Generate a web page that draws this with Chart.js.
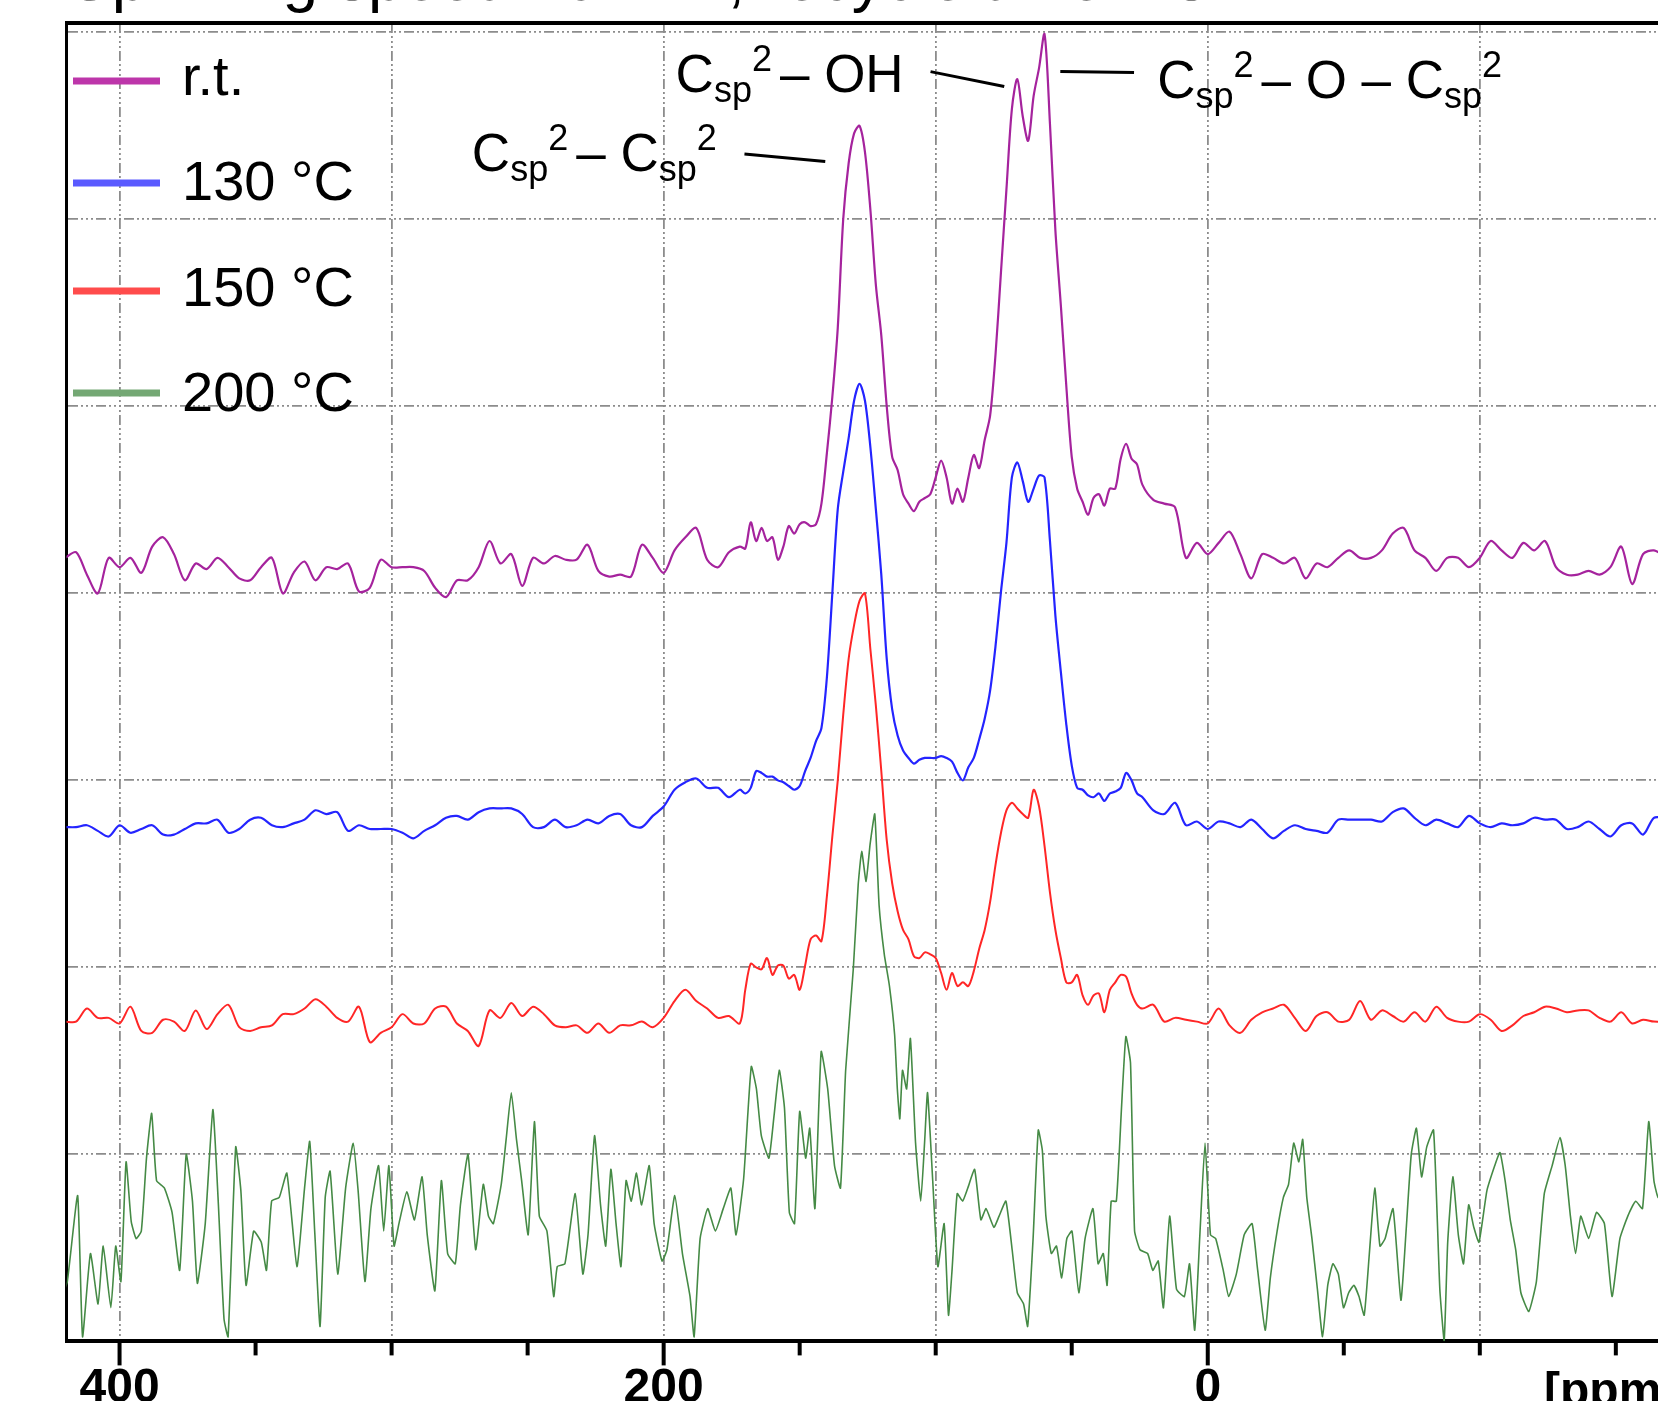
<!DOCTYPE html>
<html>
<head>
<meta charset="utf-8">
<script src="https://cdn.jsdelivr.net/npm/chart.js@4.4.0/dist/chart.umd.min.js"></script>
<style>
  html, body { margin: 0; padding: 0; background: #fff; overflow: hidden; }
  #wrap { width: 1658px; height: 1401px; overflow: hidden; }
  canvas { display: block; }
</style>
</head>
<body>
<div id="wrap"><canvas id="nmr" width="1658" height="1437"></canvas></div>
<script>
// chemical shift positions (ppm) for the r.t. / 130 / 150 traces, finer around the peaks
const ppm = [
  420,416,412,408,404,400,396,392,388,384,380,376,372,368,364,360,356,352,348,344,
  340,336,332,328,324,320,316,312,308,304,300,296,292,288,284,280,276,272,268,264,
  260,256,252,248,244,240,236,232,228,224,220,216,212,208,204,200,196,192,188,184,
  180,176,172,
  170,168,166,164,162,160,158,156,154,152,150,148,146,144,142,
  140,138,136,134,132,130,128,126,124,122,120,118,116,114,112,
  110,108,106,104,102,100,98,96,94,92,90,88,86,84,82,
  80,78,76,74,72,70,68,66,64,62,60,58,56,54,52,
  50,48,46,44,42,40,38,36,34,32,30,28,26,
  24,20,16,12,8,4,0,-4,-8,-12,-16,-20,-24,-28,-32,-36,-40,-44,-48,-52,
  -56,-60,-64,-68,-72,-76,-80,-84,-88,-92,-96,-100,-104,-108,-112,-116,-120,-124,-128,-132,
  -136,-140,-144,-148,-152,-156,-160,-164,-168
];

// stacked traces, intensity in grid units (10 per grid line)
const rt = [
  41.9,42.2,41.0,40.0,41.9,41.4,41.9,41.1,42.5,43.0,42.1,40.7,41.6,41.3,41.9,41.4,40.8,40.7,41.4,41.9,
  40.0,41.1,41.7,40.7,41.4,41.3,41.6,40.1,40.3,41.8,41.4,41.4,41.4,41.2,40.3,39.8,40.7,40.7,41.4,42.8,
  41.6,42.1,40.4,41.9,41.6,42.0,41.8,41.8,42.6,41.2,40.9,41.0,40.9,42.6,41.9,41.1,42.3,43.0,43.5,41.8,
  41.4,42.2,42.5,
  42.4,43.8,42.8,43.5,42.8,43.0,41.8,42.5,43.6,43.2,43.7,43.8,43.6,43.7,44.8,
  47.5,50.5,54.2,60.0,63.0,64.6,65.0,63.6,60.5,56.5,53.8,50.0,47.3,46.6,45.3,
  44.8,44.4,44.9,45.1,45.3,46.2,47.1,46.2,44.8,45.6,44.9,46.2,47.4,46.7,48.2,
  49.5,52.8,57.2,61.6,65.9,67.5,65.5,64.2,66.6,68.1,69.9,65.1,59.4,55.4,51.1,
  47.3,45.6,44.9,44.2,45.1,45.3,44.7,45.6,45.6,47.2,48.0,47.2,46.9,
  45.8,45.0,44.8,44.6,41.9,42.7,42.1,42.7,43.3,42.1,40.8,42.1,41.9,41.6,41.9,40.8,41.6,41.4,41.9,42.3,
  41.9,41.9,42.3,43.2,43.5,42.3,41.9,41.2,41.9,41.9,41.4,41.9,42.8,42.3,41.9,42.7,42.3,42.8,41.4,41.0,
  41.0,41.2,41.0,41.4,42.5,40.5,42.1,42.3,42.0
];
const t130 = [
  27.5,27.5,27.6,27.3,27.0,27.6,27.2,27.4,27.6,27.1,27.1,27.4,27.7,27.7,27.9,27.2,27.4,27.9,28.0,27.6,
  27.5,27.7,27.9,28.4,28.2,28.3,27.3,27.6,27.4,27.4,27.4,27.2,26.9,27.3,27.6,28.0,28.1,27.9,28.3,28.5,
  28.5,28.5,28.2,27.5,27.5,27.9,27.5,27.6,27.9,27.7,28.1,28.2,27.6,27.5,28.1,28.6,29.5,29.9,30.1,29.6,
  29.6,29.1,29.5,
  29.3,29.6,30.5,30.4,30.2,30.2,30.0,29.9,29.7,29.5,29.7,30.5,31.2,32.1,32.8,
  35.5,40.0,44.5,46.5,48.3,50.3,51.2,50.3,47.8,44.5,41.0,36.5,33.8,32.4,31.6,
  31.2,30.9,31.1,31.2,31.2,31.2,31.3,31.2,31.0,30.4,30.0,30.7,31.2,32.2,33.3,
  34.8,37.2,40.1,42.7,46.2,47.0,46.0,44.9,45.6,46.3,46.2,42.8,38.8,35.8,33.0,
  30.8,29.6,29.5,29.2,29.1,29.3,28.9,29.3,29.4,29.6,30.4,30.0,29.3,
  29.1,28.4,28.2,28.8,27.6,27.8,27.4,27.8,27.7,27.5,27.9,27.4,26.9,27.3,27.6,27.4,27.3,27.2,27.9,27.9,
  27.9,27.9,27.8,28.3,28.5,28.0,27.6,27.9,27.7,27.5,28.1,27.7,27.5,27.7,27.6,27.7,28.0,27.9,27.9,27.4,
  27.5,27.8,27.4,27.0,27.6,27.7,27.1,28.0,28.0
];
const t150 = [
  17.1,17.1,17.8,17.3,17.3,17.0,17.9,16.6,16.5,17.2,17.1,16.6,17.7,16.7,17.5,18.0,16.8,16.6,16.8,16.9,
  17.5,17.5,17.8,18.3,17.9,17.3,17.1,17.9,16.0,16.5,16.8,17.5,17.0,17.0,17.8,17.9,17.0,16.6,15.8,17.7,
  17.3,18.1,17.4,17.9,17.5,16.9,16.8,16.9,16.5,17.0,16.5,16.9,16.9,17.1,16.8,17.3,18.2,18.8,18.2,17.8,
  17.3,17.4,17.0,
  18.8,20.2,20.0,19.9,20.5,19.6,20.1,20.1,19.4,19.6,18.8,20.1,21.5,21.7,21.4,
  23.8,27.0,30.0,33.5,36.5,38.3,39.6,40.0,37.0,34.0,30.5,26.8,24.5,23.0,22.0,
  21.5,20.6,20.5,20.8,20.7,20.5,19.7,18.8,19.7,19.0,19.2,19.0,19.8,21.0,22.0,
  23.5,25.5,27.2,28.4,28.8,28.5,28.2,28.0,29.5,28.6,26.5,24.0,22.0,20.5,19.2,
  19.2,19.6,18.5,18.0,18.5,18.6,17.6,18.8,19.2,19.6,19.5,18.6,18.0,
  17.8,18.0,17.1,17.3,17.2,17.1,17.0,17.8,16.9,16.5,17.2,17.6,17.8,18.0,17.3,16.6,17.4,17.6,17.1,17.2,
  18.2,17.2,17.7,17.4,17.1,17.6,17.1,17.9,17.3,17.1,17.1,17.5,17.2,16.6,16.9,17.4,17.6,17.9,17.8,17.6,
  17.7,17.7,17.3,17.1,17.6,17.0,17.2,17.1,17.1
];

// the 200 °C trace is much noisier, so it was read at its own, denser positions
const ppm200 = [
  421,419.2,415.4,413.6,410.7,407.9,406.0,403.2,401.4,399.5,397.6,395.7,393.9,392.0,390.1,388.2,386.4,383.5,380.7,377.9,
  375.5,373.2,371.4,368.5,365.7,363.8,361.6,360.1,357.3,355.4,353.5,350.7,347.9,346.0,344.1,341.3,338.5,334.8,332.0,330.1,
  328.2,326.3,324.4,322.6,319.8,316.9,314.1,312.3,309.8,307.6,304.8,302.9,301.0,299.1,297.3,294.4,291.6,288.8,286.9,284.1,
  281.7,279.4,276.6,274.7,271.9,269.1,266.3,264.4,262.6,259.7,257.9,256.0,254.1,252.2,249.8,247.5,245.7,242.9,240.4,239.1,
  236.3,232.5,229.7,227.8,225.4,223.2,221.3,219.4,217.5,215.7,213.8,211.9,210.0,208.1,205.3,203.5,200.6,198.8,195.9,193.1,
  190.3,188.8,186.6,183.8,181.0,178.1,175.3,173.4,170.6,167.8,165.9,164.1,161.3,159.4,157.5,155.6,153.8,151.9,150.0,147.8,
  146.3,144.4,142.1,139.7,137.2,135.0,133.1,130.3,128.5,127.2,125.6,124.1,122.4,120.8,118.9,117.0,115.1,114.1,113.2,112.2,
  110.7,109.3,107.4,105.5,104.1,103.0,101.1,99.2,96.9,95.3,94.0,92.1,90.1,88.2,85.7,83.4,81.5,78.6,76.7,74.2,
  71.9,70.0,67.7,66.2,64.2,62.3,60.8,59.5,57.5,55.6,53.7,51.8,49.9,47.4,45.1,42.2,40.3,38.4,37.0,35.5,
  33.6,31.7,30.1,28.4,26.9,24.9,22.1,20.2,18.2,16.3,14.0,11.5,8.6,6.7,4.8,2.9,1.0,-1.0,-2.9,-5.7,
  -7.7,-10.5,-13.4,-16.3,-18.2,-21.1,-23.0,-25.5,-27.8,-29.7,-31.6,-33.5,-34.9,-36.4,-38.3,-40.3,-42.2,-44.1,-46.0,-48.0,
  -49.9,-51.8,-53.7,-55.6,-57.5,-59.4,-61.4,-63.3,-65.2,-68.1,-71.0,-72.9,-74.8,-76.7,-78.6,-80.5,-83.0,-85.3,-86.9,-88.2,
  -90.1,-92.1,-94.0,-95.9,-97.8,-99.7,-102.6,-105.5,-107.4,-109.3,-111.2,-113.2,-115.1,-118.0,-120.8,-123.7,-126.6,-129.5,-131.4,-133.3,
  -135.2,-137.1,-140.0,-142.9,-145.8,-148.6,-151.5,-154.4,-157.3,-159.8,-162.1,-164.0,-165.5,-168
];
const t200 = [
  2.5,3.2,7.8,0.25,4.7,2.0,5.1,1.8,5.1,3.2,9.6,6.4,5.5,5.9,9.8,12.2,8.6,8.2,6.9,3.8,
  10.0,7.5,3.1,6.3,12.4,7.7,1.2,0.25,10.4,8.05,3.0,5.9,5.3,3.8,7.5,7.7,9.0,4.0,8.2,10.7,
  5.7,0.8,7.7,9.1,3.6,8.2,10.6,8.05,3.2,7.1,9.4,5.9,9.4,5.1,6.3,8.0,6.5,8.8,5.7,2.7,
  8.6,4.7,4.15,7.3,10.0,4.9,8.4,6.7,6.3,8.4,10.8,13.3,10.8,8.6,5.7,11.75,6.7,5.9,2.4,4.0,
  4.15,7.9,3.6,5.7,11.0,7.3,5.1,9.2,6.3,4.0,8.6,7.5,9.0,7.3,9.4,6.3,4.3,4.9,7.8,4.7,
  2.4,0.25,5.5,7.1,5.9,7.1,8.2,5.7,8.7,14.7,13.5,11.0,9.8,12.1,14.5,12.5,6.9,6.3,12.3,9.8,
  11.4,7.1,15.5,13.5,9.4,8.2,14.5,19.9,24.4,26.2,24.6,26.6,28.2,23.3,20.7,19.0,16.4,13.5,11.9,14.5,
  13.5,16.2,10.6,7.5,10.6,13.3,8.6,4.0,6.3,1.4,3.8,7.9,7.5,8.2,9.2,6.5,7.1,6.1,6.7,7.5,
  4.9,2.6,2.0,0.8,5.5,11.3,10.2,6.7,4.7,5.1,3.4,5.5,5.9,2.6,5.5,7.1,4.15,4.7,3.0,7.5,
  7.5,12.5,16.3,14.9,5.9,4.9,4.7,3.8,4.3,1.8,6.7,2.8,2.4,4.15,0.6,5.7,10.6,5.7,5.5,3.8,
  2.4,3.6,5.7,6.3,4.0,0.6,3.4,5.9,7.7,8.4,10.6,9.6,10.8,7.7,5.5,2.8,0.25,3.0,4.15,3.6,
  1.8,2.6,3.0,2.4,1.4,4.7,8.2,5.1,5.5,7.1,2.2,5.9,10.0,11.4,8.8,10.4,11.3,2.8,0.05,5.3,
  8.8,5.7,4.15,7.3,6.1,5.3,8.05,9.4,10.1,8.6,6.5,4.9,2.6,1.6,3.2,7.9,9.4,10.9,9.4,6.7,
  4.7,6.7,5.5,6.9,6.3,2.4,5.5,6.7,7.5,7.1,11.75,8.6,7.7,7.5
];

const seriesNames = ['r.t.', '130 °C', '150 °C', '200 °C'];
const xTickLabels = { 400: '400', 200: '200', 0: '0' };
const axisUnit = '[ppm]';
const titleText = 'Spinning speed 20 kHz, recycle time 4 s';

const lineColors = ['#a5239d', '#2424ff', '#ff2626', '#458a45'];
const keyColors = ['#bd36aa', '#5a5aff', '#ff4c4c', '#74a874'];
const lineWidths = [2.2, 2.2, 2.0, 1.6];
const tensions = [0.3, 0.3, 0.3, 0.15];
const gridDash = [10, 3, 2, 3, 2, 3, 2, 3];
const FONT = '"Liberation Sans", Arial, sans-serif';

// peak labels placed in data units (ppm, intensity)
const labels = [
  { at: [195.6, 66.8], parts: [['C', 'n'], ['sp', 'sub'], ['2', 'sup'], ['– OH', 'n']] },
  { at: [18.6, 66.5], parts: [['C', 'n'], ['sp', 'sub'], ['2', 'sup'], ['– O – C', 'n'], ['sp', 'sub'], ['2', 'sup']] },
  { at: [270.5, 62.6], parts: [['C', 'n'], ['sp', 'sub'], ['2', 'sup'], ['– C', 'n'], ['sp', 'sub'], ['2', 'sup']] }
];
const leaders = [
  [101.9, 67.9, 74.8, 67.1],
  [54.2, 67.9, 27.1, 67.85],
  [170.3, 63.5, 140.6, 63.1]
];

function drawFormula(ctx, x, y, parts) {
  let cx = x;
  parts.forEach((p, i) => {
    const [txt, kind] = p;
    if (kind === 'n') {
      if (i > 0) cx += 8;
      ctx.font = '53px ' + FONT;
      ctx.fillText(txt, cx, y);
    } else {
      ctx.font = '36px ' + FONT;
      ctx.fillText(txt, cx, kind === 'sub' ? y + 10 : y - 21);
    }
    cx += ctx.measureText(txt).width;
  });
}

const decor = {
  id: 'decor',
  afterDraw(chart) {
    const ctx = chart.ctx;
    const area = chart.chartArea;
    const xs = chart.scales.x, ys = chart.scales.y;
    ctx.save();
    // top frame line
    ctx.strokeStyle = '#000';
    ctx.lineWidth = 4;
    ctx.beginPath();
    ctx.moveTo(area.left - 1.5, area.top);
    ctx.lineTo(area.right, area.top);
    ctx.stroke();

    // tick marks: long at labelled ticks, short elsewhere
    ctx.lineWidth = 4;
    xs.ticks.forEach(t => {
      const px = xs.getPixelForValue(t.value);
      const len = (t.value % 200 === 0) ? 24 : 14;
      ctx.beginPath();
      ctx.moveTo(px, area.bottom);
      ctx.lineTo(px, area.bottom + len);
      ctx.stroke();
    });

    // axis unit
    ctx.fillStyle = '#000';
    ctx.font = 'bold 48px ' + FONT;
    ctx.textBaseline = 'alphabetic';
    ctx.textAlign = 'left';
    ctx.fillText(axisUnit, xs.getPixelForValue(-123.6), area.bottom + 65);

    // clipped title
    ctx.font = '64px ' + FONT;
    ctx.fillText(titleText, 69, 0);

    // legend
    const keyY = [81, 183, 291, 393];
    const textY = [95, 200, 306, 411];
    chart.data.datasets.forEach((ds, i) => {
      ctx.strokeStyle = keyColors[i];
      ctx.lineWidth = 7;
      ctx.beginPath();
      ctx.moveTo(73, keyY[i]);
      ctx.lineTo(160, keyY[i]);
      ctx.stroke();
      ctx.fillStyle = '#000';
      ctx.font = '56px ' + FONT;
      ctx.fillText(ds.label, 182, textY[i]);
    });

    // peak labels
    ctx.fillStyle = '#000';
    labels.forEach(l => {
      drawFormula(ctx, xs.getPixelForValue(l.at[0]), ys.getPixelForValue(l.at[1]), l.parts);
    });
    ctx.strokeStyle = '#000';
    ctx.lineWidth = 3;
    leaders.forEach(s => {
      ctx.beginPath();
      ctx.moveTo(xs.getPixelForValue(s[0]), ys.getPixelForValue(s[1]));
      ctx.lineTo(xs.getPixelForValue(s[2]), ys.getPixelForValue(s[3]));
      ctx.stroke();
    });
    ctx.restore();
  }
};

const traces = [[ppm, rt], [ppm, t130], [ppm, t150], [ppm200, t200]];

new Chart(document.getElementById('nmr').getContext('2d'), {
  type: 'line',
  data: {
    datasets: traces.map(([xs, vals], i) => ({
      label: seriesNames[i],
      data: xs.map((x, j) => ({ x: x, y: vals[j] })),
      borderColor: lineColors[i],
      borderWidth: lineWidths[i],
      pointRadius: 0,
      tension: tensions[i],
      fill: false
    }))
  },
  options: {
    responsive: false,
    animation: false,
    devicePixelRatio: 1,
    parsing: false,
    layout: { padding: { left: 66.5, top: 23, right: 0, bottom: 0 } },
    plugins: { legend: { display: false }, tooltip: { enabled: false } },
    scales: {
      x: {
        type: 'linear',
        reverse: true,
        min: -165.5,
        max: 419.5,
        ticks: {
          stepSize: 50,
          includeBounds: false,
          autoSkip: false,
          maxRotation: 0,
          padding: 19,
          color: '#000',
          font: { family: FONT, size: 48, weight: 'bold' },
          callback: v => (xTickLabels[v] !== undefined ? xTickLabels[v] : '')
        },
        grid: {
          drawTicks: false,
          lineWidth: 1.8,
          color: c => (c.tick && c.tick.value % 100 === 0) ? '#8c8c8c' : 'rgba(0,0,0,0)'
        },
        border: { display: true, color: '#000', width: 4, dash: gridDash }
      },
      y: {
        type: 'linear',
        min: 0,
        max: 70.5,
        ticks: { display: false, stepSize: 10, includeBounds: false },
        grid: {
          drawTicks: false,
          lineWidth: 1.8,
          color: c => (c.tick && c.tick.value > 0) ? '#8c8c8c' : 'rgba(0,0,0,0)'
        },
        border: { display: true, color: '#000', width: 3, dash: gridDash }
      }
    }
  },
  plugins: [decor]
});
</script>
</body>
</html>
